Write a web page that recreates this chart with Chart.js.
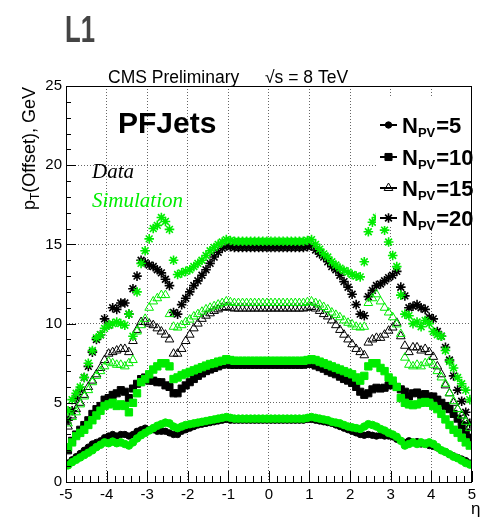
<!DOCTYPE html>
<html>
<head>
<meta charset="utf-8">
<script src="https://cdn.jsdelivr.net/npm/chart.js@4.4.1/dist/chart.umd.min.js"></script>
<style>
  html, body { margin: 0; padding: 0; background: #fff; }
  #wrap { width: 480px; height: 517px; }
</style>
</head>
<body>
<div id="wrap"><canvas id="c" width="480" height="517"></canvas></div>
<script>
// eta bin centres
const eta = [
  -4.95,-4.85,-4.75,-4.65,-4.55,-4.45,-4.35,-4.25,-4.15,-4.05,
  -3.95,-3.85,-3.75,-3.65,-3.55,-3.45,-3.35,-3.25,-3.15,-3.05,
  -2.95,-2.85,-2.75,-2.65,-2.55,-2.45,-2.35,-2.25,-2.15,-2.05,
  -1.95,-1.85,-1.75,-1.65,-1.55,-1.45,-1.35,-1.25,-1.15,-1.05,
  -0.95,-0.85,-0.75,-0.65,-0.55,-0.45,-0.35,-0.25,-0.15,-0.05,
  0.05,0.15,0.25,0.35,0.45,0.55,0.65,0.75,0.85,0.95,
  1.05,1.15,1.25,1.35,1.45,1.55,1.65,1.75,1.85,1.95,
  2.05,2.15,2.25,2.35,2.45,2.55,2.65,2.75,2.85,2.95,
  3.05,3.15,3.25,3.35,3.45,3.55,3.65,3.75,3.85,3.95,
  4.05,4.15,4.25,4.35,4.45,4.55,4.65,4.75,4.85,4.95
];

// offset pT (GeV), data
const npv5Data = [
  1.2,1.4,1.6,1.8,2.0,2.2,2.4,2.5,2.6,2.8,
  2.9,3.0,2.9,3.0,3.0,2.9,3.0,3.2,3.3,3.4,
  3.3,3.3,3.2,3.2,3.2,3.1,3.0,3.0,3.2,3.3,
  3.4,3.5,3.6,3.65,3.7,3.75,3.8,3.85,3.9,3.95,
  3.9,3.9,3.9,3.9,3.9,3.9,3.9,3.9,3.9,3.9,
  3.9,3.9,3.9,3.9,3.9,3.9,3.9,3.9,3.9,3.95,
  3.95,3.9,3.85,3.8,3.75,3.7,3.6,3.5,3.4,3.3,
  3.2,3.1,3.0,2.95,3.0,2.95,2.9,2.95,2.9,2.9,
  2.85,2.7,2.6,2.5,2.6,2.5,2.55,2.4,2.45,2.3,
  2.25,2.15,2.0,1.9,1.75,1.65,1.55,1.45,1.35,1.2
];
const npv10Data = [
  2.0,2.6,3.0,3.3,3.6,3.9,4.3,4.6,4.8,5.2,
  5.3,5.5,5.6,5.8,5.7,5.3,5.9,6.2,6.5,6.6,
  6.4,6.4,6.3,6.3,6.1,6.0,5.6,5.6,5.9,6.1,
  6.3,6.5,6.7,6.85,7.0,7.1,7.2,7.3,7.4,7.45,
  7.4,7.4,7.4,7.4,7.4,7.4,7.4,7.4,7.4,7.4,
  7.4,7.4,7.4,7.4,7.4,7.4,7.4,7.4,7.4,7.45,
  7.45,7.35,7.25,7.15,7.0,6.9,6.8,6.65,6.5,6.4,
  6.25,6.0,5.7,5.5,5.6,5.85,5.95,5.9,5.95,6.1,
  6.15,6.0,5.85,5.7,5.4,5.6,5.65,5.5,5.55,5.4,
  5.4,5.2,5.0,4.8,4.6,4.3,4.0,3.6,3.1,2.8
];
const npv15Data = [
  3.5,4.2,4.6,5.0,5.5,6.0,6.4,6.8,7.2,7.7,
  8.1,8.2,8.3,8.4,8.4,8.2,8.9,9.6,10.1,10.1,
  10.0,9.9,9.7,9.5,9.3,9.0,8.1,8.1,8.4,8.9,
  9.3,9.7,10.0,10.3,10.5,10.65,10.8,10.9,11.0,11.05,
  11.0,10.95,10.95,10.95,10.95,10.95,10.95,10.95,10.95,10.95,
  10.95,10.95,10.95,10.95,10.95,10.95,10.95,10.95,10.95,11.0,
  11.05,10.95,10.8,10.6,10.45,10.2,9.9,9.6,9.3,9.0,
  8.7,8.4,8.2,8.0,8.8,9.0,9.1,9.1,9.3,9.55,
  9.75,10.05,9.2,8.6,8.2,8.5,8.5,8.3,8.4,8.2,
  7.9,7.3,6.8,6.1,5.6,5.0,4.6,4.2,3.9,3.5
];
const npv20Data = [
  3.9,4.5,5.3,5.8,6.6,7.3,8.2,9.0,9.3,10.3,
  9.9,11.0,10.9,11.3,11.3,10.6,12.2,13.0,14.0,13.85,
  13.7,13.6,13.4,13.2,12.8,12.4,10.7,10.6,11.2,11.6,
  12.0,12.4,12.7,13.05,13.4,13.8,14.2,14.5,14.75,14.9,
  14.85,14.8,14.8,14.8,14.8,14.8,14.8,14.8,14.8,14.8,
  14.8,14.8,14.8,14.8,14.8,14.8,14.8,14.8,14.8,14.85,
  14.9,14.65,14.4,14.2,13.9,13.6,13.4,13.05,12.65,12.3,
  11.85,11.2,10.6,10.5,11.7,12.1,12.4,12.5,12.7,12.9,
  13.05,13.3,12.3,11.75,11.0,11.1,11.2,11.0,10.9,10.4,
  10.3,9.5,9.2,8.5,7.7,6.7,5.8,5.1,4.4,3.7
];

// offset pT (GeV), simulation
const npv5Sim = [
  1.05,1.25,1.4,1.55,1.7,1.85,2.0,2.2,2.35,2.5,
  2.45,2.55,2.45,2.5,2.4,2.3,2.5,2.75,2.95,3.1,
  3.25,3.4,3.55,3.65,3.75,3.7,3.5,3.4,3.5,3.6,
  3.65,3.7,3.75,3.8,3.85,3.9,3.95,4.0,4.05,4.1,
  4.05,4.0,4.0,4.0,4.0,4.0,4.0,4.0,4.0,4.0,
  4.0,4.0,4.0,4.0,4.0,4.0,4.0,4.0,4.0,4.05,
  4.1,4.05,4.0,3.95,3.9,3.8,3.75,3.7,3.6,3.5,
  3.45,3.4,3.35,3.5,3.65,3.6,3.5,3.35,3.25,3.1,
  3.0,2.85,2.6,2.3,2.4,2.5,2.4,2.5,2.4,2.5,
  2.4,2.2,2.0,1.9,1.75,1.6,1.5,1.35,1.2,1.1
];
const npv10Sim = [
  2.2,2.5,2.9,3.1,3.3,3.6,3.9,4.2,4.5,4.8,
  4.9,5.0,4.8,4.9,4.8,4.4,5.0,5.6,6.3,6.5,
  6.8,7.1,7.3,7.5,7.5,7.3,6.5,6.6,6.75,6.85,
  6.95,7.05,7.15,7.25,7.35,7.45,7.5,7.6,7.65,7.75,
  7.7,7.65,7.65,7.65,7.65,7.65,7.65,7.65,7.65,7.65,
  7.65,7.65,7.65,7.65,7.65,7.65,7.65,7.65,7.65,7.7,
  7.75,7.7,7.6,7.5,7.4,7.3,7.2,7.1,7.0,6.9,
  6.8,6.6,6.4,6.7,7.3,7.5,7.5,7.2,7.0,6.6,
  6.4,6.0,5.3,5.0,4.9,4.85,4.9,5.0,5.05,5.0,
  4.8,4.6,4.3,3.95,3.6,3.3,3.1,2.8,2.5,2.3
];
const npv15Sim = [
  3.7,4.1,4.4,4.9,5.4,5.8,6.3,6.7,7.0,7.3,
  7.6,7.5,7.4,7.4,7.3,7.5,7.7,9.5,9.9,10.3,
  11.0,11.4,11.6,11.8,11.8,10.6,9.8,9.75,9.9,10.1,
  10.25,10.45,10.6,10.75,10.9,11.0,11.1,11.2,11.3,11.4,
  11.35,11.3,11.3,11.3,11.3,11.3,11.3,11.3,11.3,11.3,
  11.3,11.3,11.3,11.3,11.3,11.3,11.3,11.3,11.3,11.35,
  11.4,11.3,11.2,11.05,10.9,10.7,10.55,10.4,10.2,10.05,
  9.95,9.8,9.75,9.8,11.3,11.6,11.85,11.4,11.0,10.7,
  10.4,9.95,9.35,7.85,7.4,7.3,7.4,7.3,7.5,7.6,
  7.4,7.0,6.6,6.2,5.6,5.1,4.6,4.2,3.8,3.4
];
const npv20Sim = [
  4.5,5.2,5.6,6.0,6.6,7.5,8.3,9.1,9.3,9.7,
  9.9,10.0,10.1,10.0,9.9,10.6,9.2,12.0,13.8,14.6,
  15.35,16.0,16.2,16.7,16.45,15.95,14.0,13.1,13.2,13.3,
  13.4,13.6,13.8,14.0,14.3,14.6,14.8,15.0,15.15,15.3,
  15.25,15.2,15.2,15.2,15.2,15.2,15.2,15.2,15.2,15.2,
  15.2,15.2,15.2,15.2,15.2,15.2,15.2,15.2,15.2,15.25,
  15.3,15.0,14.7,14.4,14.2,13.9,13.7,13.5,13.35,13.25,
  13.1,13.0,12.95,13.9,15.8,16.4,16.7,16.5,15.9,15.15,
  14.3,13.6,11.8,10.6,10.5,10.0,10.1,9.8,10.2,10.0,
  9.5,9.3,9.2,8.3,7.6,7.2,6.6,6.2,5.8,5.2
];

const npvLabels = ['5', '10', '15', '20'];
const xTicks = [-5, -4, -3, -2, -1, 0, 1, 2, 3, 4, 5];
const yTicks = [0, 5, 10, 15, 20, 25];

const GREEN = '#00ec00';
const FONT = "'Liberation Sans', Arial, sans-serif";

const styles = [
  { pointStyle: 'circle',   radius: 3.2, simRadius: 3.8, open: false },
  { pointStyle: 'rect',     radius: 5,   simRadius: 5.2, open: false },
  { pointStyle: 'triangle', radius: 5,   simRadius: 5,   open: true },
  { pointStyle: 'star',     radius: 4.8, simRadius: 4.8, open: false }
];

const toPts = arr => arr.map((v, i) => (v == null ? null : { x: eta[i], y: v }));

function makeSet(arr, st, color, sim) {
  return {
    data: toPts(arr),
    showLine: false,
    pointStyle: st.pointStyle,
    pointRadius: sim ? st.simRadius : st.radius,
    pointBorderWidth: st.pointStyle === 'star' ? 1.6 : 1,
    pointBorderColor: color,
    pointBackgroundColor: st.open ? 'rgba(0,0,0,0)' : color,
    pointHoverRadius: 0
  };
}

const dataArrs = [npv5Data, npv10Data, npv15Data, npv20Data];
const simArrs = [npv5Sim, npv10Sim, npv15Sim, npv20Sim];

// index 0 is drawn last in Chart.js, so simulation first puts it on top
const datasets = [];
simArrs.forEach((a, i) => datasets.push(makeSet(a, styles[i], GREEN, true)));
dataArrs.forEach((a, i) => datasets.push(makeSet(a, styles[i], '#000', false)));

function drawMarker(ctx, st, x, y) {
  ctx.fillStyle = st.open ? 'rgba(0,0,0,0)' : '#000';
  ctx.strokeStyle = '#000';
  ctx.lineWidth = st.pointStyle === 'star' ? 1.6 : 1;
  Chart.helpers.drawPoint(ctx, { pointStyle: st.pointStyle, radius: st.radius, rotation: 0, borderWidth: ctx.lineWidth }, x, y);
}

const overlay = {
  id: 'overlay',
  afterDatasetsDraw(chart) {
    const ctx = chart.ctx;
    ctx.save();
    // legend pave
    ctx.fillStyle = '#fff';
    ctx.fillRect(376, 98, 104, 128);
    const rowY = [125, 157, 188, 218];
    npvLabels.forEach((lab, i) => {
      const y = rowY[i];
      ctx.strokeStyle = '#000';
      ctx.lineWidth = 2;
      ctx.setLineDash([]);
      ctx.beginPath(); ctx.moveTo(380, y); ctx.lineTo(397, y); ctx.stroke();
      drawMarker(ctx, styles[i], 388.5, y);
      ctx.fillStyle = '#000';
      ctx.textBaseline = 'alphabetic';
      ctx.textAlign = 'left';
      ctx.font = 'bold 22px ' + FONT;
      ctx.fillText('N', 402, y + 8);
      let x = 402 + ctx.measureText('N').width;
      ctx.font = 'bold 13px ' + FONT;
      ctx.fillText('PV', x, y + 12);
      x += ctx.measureText('PV').width + 1;
      ctx.font = 'bold 22px ' + FONT;
      ctx.fillText('=' + lab, x, y + 8);
    });
    // labels
    ctx.fillStyle = '#000';
    ctx.font = 'bold 30px ' + FONT;
    ctx.fillText('PFJets', 118, 133);
    ctx.font = "italic 21px 'Liberation Serif', 'Times New Roman', serif";
    ctx.fillText('Data', 92, 178);
    ctx.fillStyle = GREEN;
    ctx.fillText('Simulation', 92, 207);
    ctx.restore();
  },
  afterDraw(chart) {
    const ctx = chart.ctx;
    const a = chart.chartArea;
    const xs = chart.scales.x, ys = chart.scales.y;
    ctx.save();
    ctx.strokeStyle = '#000';
    ctx.lineWidth = 1;
    ctx.setLineDash([]);
    // frame
    ctx.strokeRect(Math.round(a.left) + 0.5, Math.round(a.top) + 0.5,
                   Math.round(a.right - a.left) - 1, Math.round(a.bottom - a.top));
    // inner ticks
    ctx.beginPath();
    for (let v = 0; v <= 25; v++) {
      const y = Math.round(ys.getPixelForValue(v)) + 0.5;
      const len = v % 5 === 0 ? 10 : 5;
      ctx.moveTo(a.left, y); ctx.lineTo(a.left + len, y);
    }
    for (let k = 0; k <= 50; k++) {
      const x = Math.round(xs.getPixelForValue(-5 + k * 0.2)) + 0.5;
      const len = k % 5 === 0 ? 11 : 6;
      ctx.moveTo(x, a.bottom); ctx.lineTo(x, a.bottom - len);
    }
    ctx.stroke();
    // header, condensed
    ctx.save();
    ctx.fillStyle = '#444';
    ctx.font = 'bold 37px ' + FONT;
    const w = ctx.measureText('L1').width;
    ctx.translate(65, 42);
    ctx.scale(30 / w, 1);
    ctx.fillText('L1', 0, 0);
    ctx.restore();
    ctx.fillStyle = '#000';
    ctx.font = '17.5px ' + FONT;
    ctx.textAlign = 'left';
    ctx.fillText('CMS Preliminary', 108, 83);
    ctx.fillText('\u221As = 8 TeV', 265, 83);
    // y title
    ctx.save();
    ctx.translate(35, 210);
    ctx.rotate(-Math.PI / 2);
    ctx.font = '18px ' + FONT;
    ctx.fillText('p', 0, 0);
    let x = ctx.measureText('p').width;
    ctx.font = '12px ' + FONT;
    ctx.fillText('T', x, 4);
    x += ctx.measureText('T').width;
    ctx.font = '18px ' + FONT;
    ctx.fillText('(Offset), GeV', x, 0);
    ctx.restore();
    // x title
    ctx.font = '17px ' + FONT;
    ctx.fillText('\u03b7', 471, 514);
    ctx.restore();
  }
};

new Chart(document.getElementById('c'), {
  type: 'scatter',
  data: { datasets },
  options: {
    responsive: false,
    animation: false,
    devicePixelRatio: 1,
    layout: { padding: { left: 0, top: 86, right: 1, bottom: 0 } },
    plugins: { legend: { display: false }, tooltip: { enabled: false } },
    scales: {
      x: {
        type: 'linear', min: -5, max: 5,
        afterFit: s => { s.height = 35; },
        afterBuildTicks: s => { s.ticks = xTicks.map(v => ({ value: v })); },
        ticks: { font: { size: 15, family: FONT }, color: '#000', padding: 4, maxRotation: 0, autoSkip: false },
        grid: { color: '#666', lineWidth: 1, drawTicks: false },
        border: { display: false, dash: [1, 2] }
      },
      y: {
        type: 'linear', min: 0, max: 25,
        afterFit: s => { s.width = 66; },
        afterBuildTicks: s => { s.ticks = yTicks.map(v => ({ value: v })); },
        ticks: { font: { size: 15, family: FONT }, color: '#000', padding: 4 },
        grid: { color: '#666', lineWidth: 1, drawTicks: false },
        border: { display: false, dash: [1, 2] }
      }
    }
  },
  plugins: [overlay]
});
</script>
</body>
</html>
